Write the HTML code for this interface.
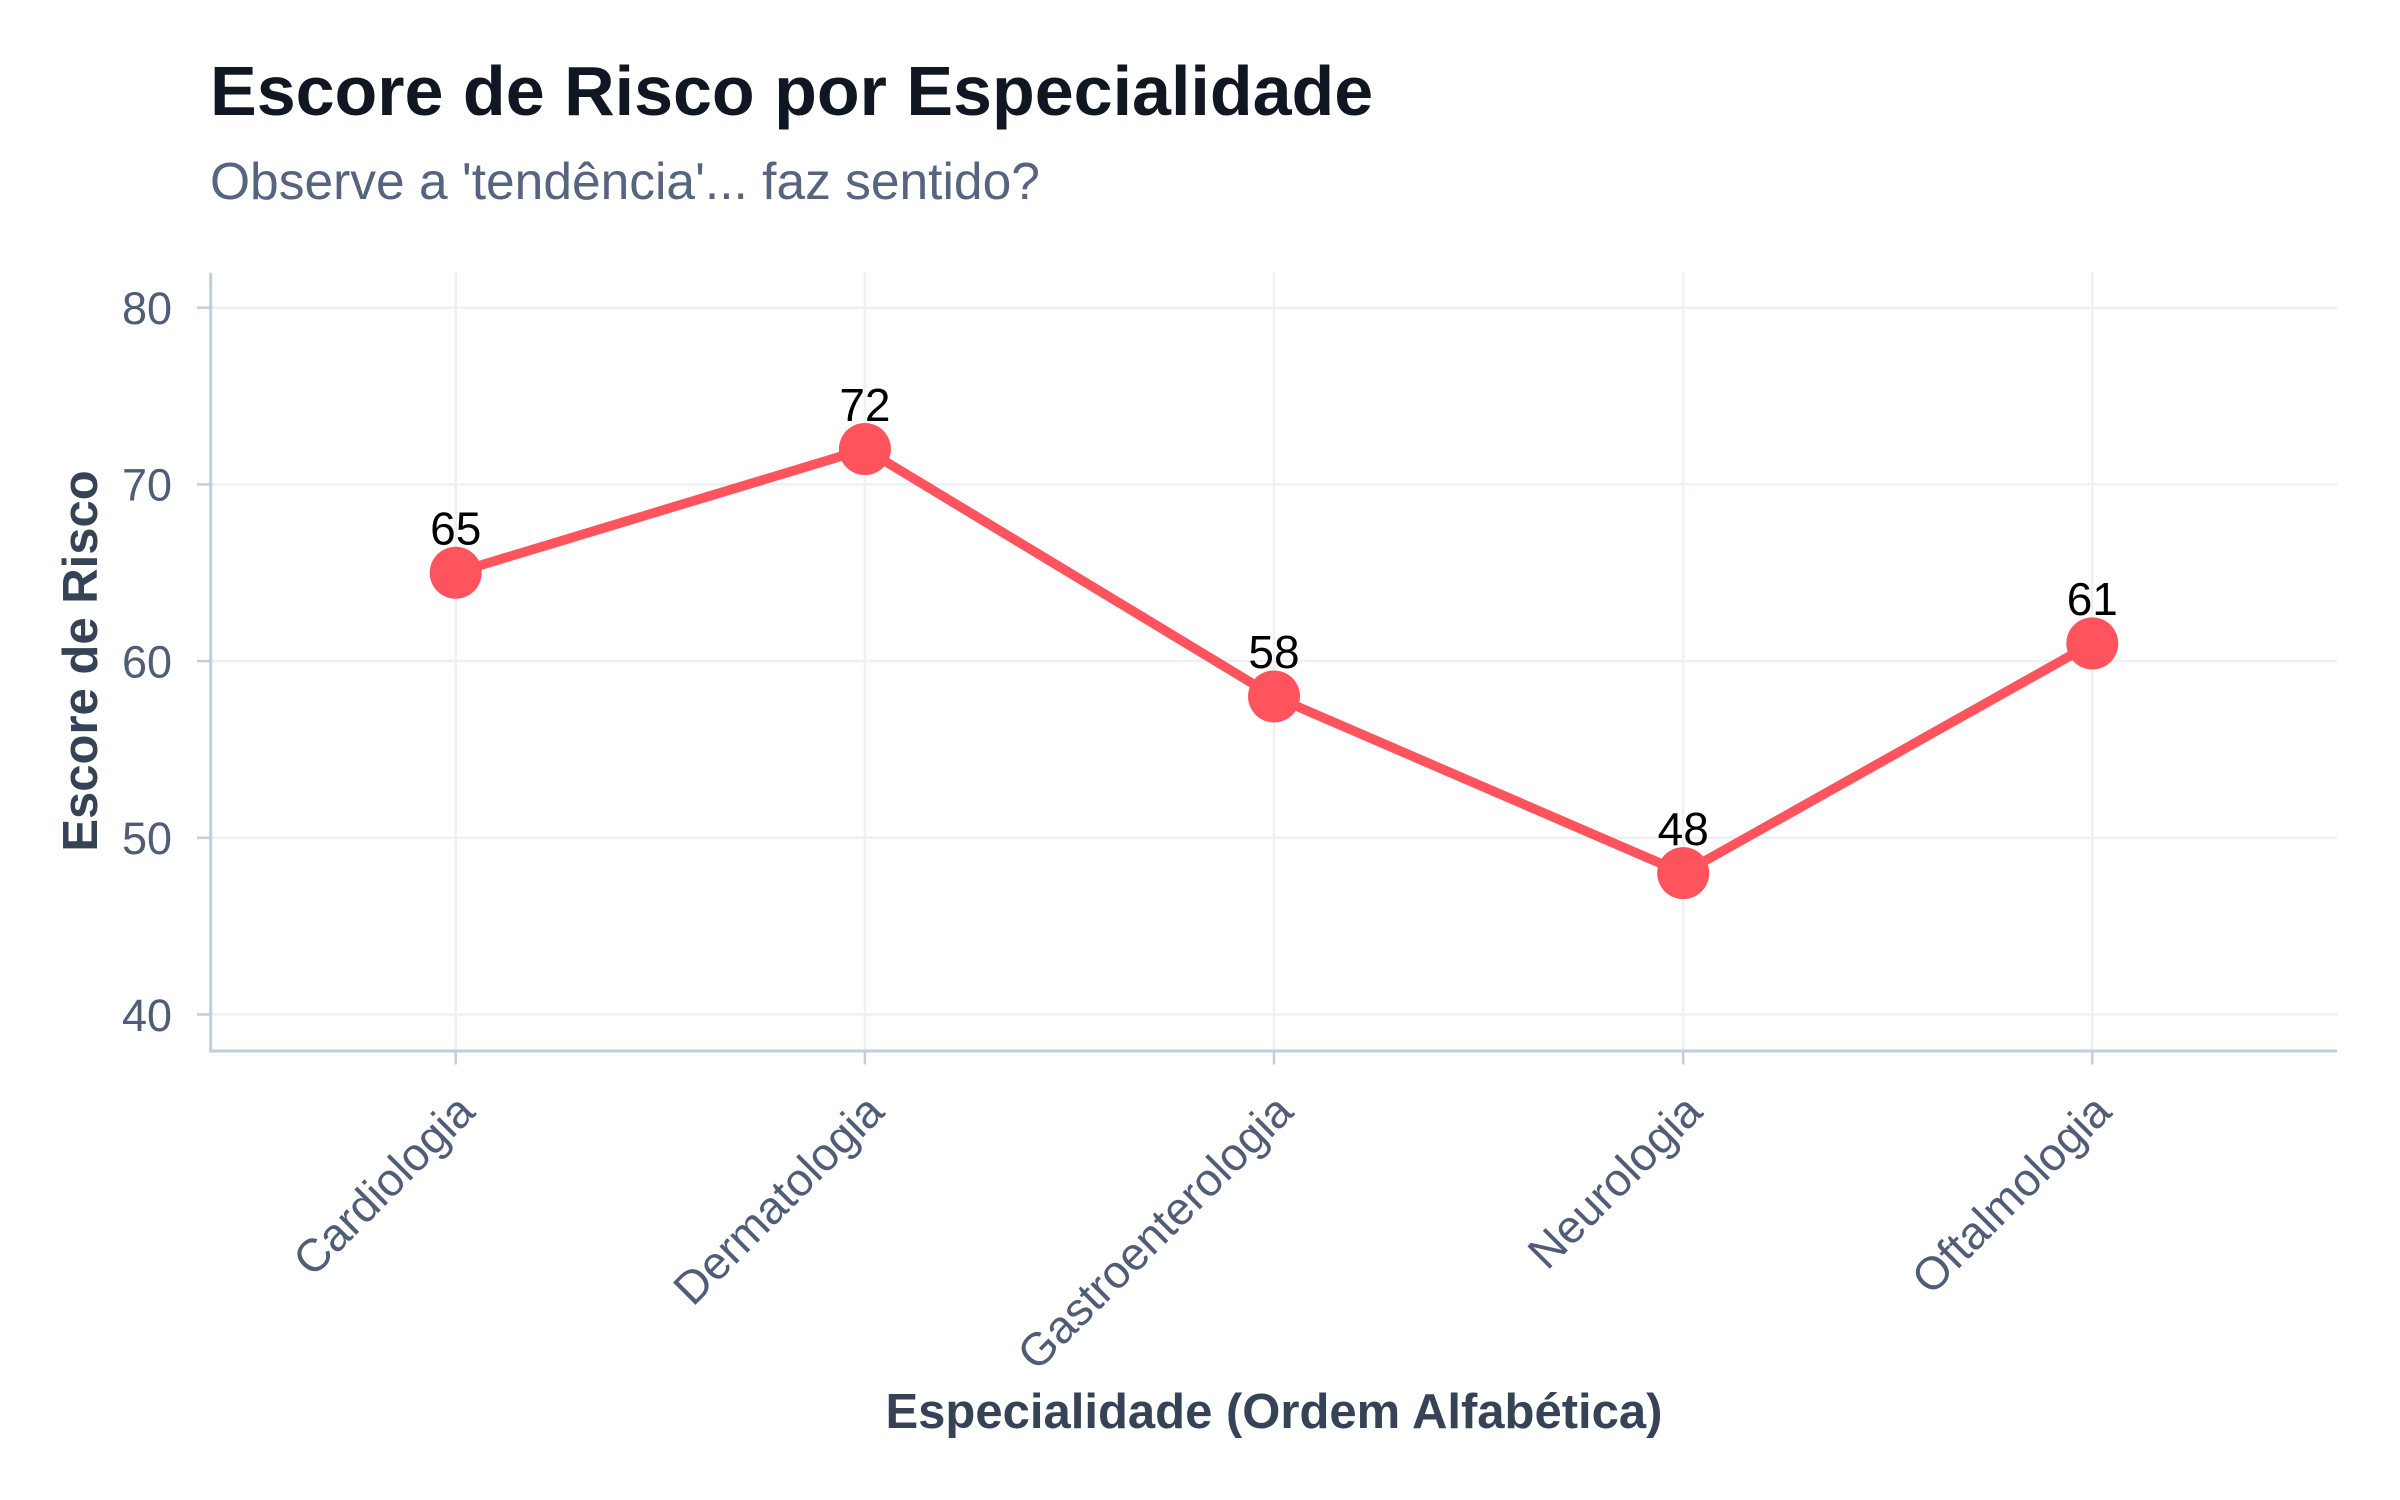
<!DOCTYPE html>
<html>
<head>
<meta charset="utf-8">
<style>
  html, body { margin: 0; padding: 0; background: #ffffff; }
  body { width: 2400px; height: 1500px; overflow: hidden; }
  svg { display: block; }
  text { font-family: "Liberation Sans", Arial, Helvetica, sans-serif; }
</style>
</head>
<body>
<svg width="2400" height="1500" viewBox="0 0 2400 1500" xmlns="http://www.w3.org/2000/svg">
  <rect x="0" y="0" width="2400" height="1500" fill="#ffffff"/>

  <!-- Title & subtitle -->
  <text x="210" y="115" font-size="70" font-weight="bold" fill="#111722">Escore de Risco por Especialidade</text>
  <text x="210" y="199" font-size="51.5" fill="#566480">Observe a 'tendência'... faz sentido?</text>

  <!-- Horizontal gridlines -->
  <g stroke="#edf0f5" stroke-width="2.5">
    <line x1="211" y1="307.7" x2="2337" y2="307.7"/>
    <line x1="211" y1="484.4" x2="2337" y2="484.4"/>
    <line x1="211" y1="661.1" x2="2337" y2="661.1"/>
    <line x1="211" y1="837.8" x2="2337" y2="837.8"/>
    <line x1="211" y1="1014.5" x2="2337" y2="1014.5"/>
  </g>
  <!-- Vertical gridlines -->
  <g stroke="#edf0f5" stroke-width="2.5">
    <line x1="455.7" y1="272.7" x2="455.7" y2="1051"/>
    <line x1="864.9" y1="272.7" x2="864.9" y2="1051"/>
    <line x1="1274" y1="272.7" x2="1274" y2="1051"/>
    <line x1="1683.2" y1="272.7" x2="1683.2" y2="1051"/>
    <line x1="2092.3" y1="272.7" x2="2092.3" y2="1051"/>
  </g>

  <!-- Spines -->
  <g stroke="#c4cedb" stroke-width="3">
    <line x1="210.7" y1="272.7" x2="210.7" y2="1052.5"/>
    <line x1="209.2" y1="1051" x2="2337" y2="1051"/>
  </g>
  <!-- Ticks -->
  <g stroke="#c4cedb" stroke-width="2.5">
    <line x1="197" y1="307.7" x2="210.7" y2="307.7"/>
    <line x1="197" y1="484.4" x2="210.7" y2="484.4"/>
    <line x1="197" y1="661.1" x2="210.7" y2="661.1"/>
    <line x1="197" y1="837.8" x2="210.7" y2="837.8"/>
    <line x1="197" y1="1014.5" x2="210.7" y2="1014.5"/>
    <line x1="455.7" y1="1051" x2="455.7" y2="1064.5"/>
    <line x1="864.9" y1="1051" x2="864.9" y2="1064.5"/>
    <line x1="1274" y1="1051" x2="1274" y2="1064.5"/>
    <line x1="1683.2" y1="1051" x2="1683.2" y2="1064.5"/>
    <line x1="2092.3" y1="1051" x2="2092.3" y2="1064.5"/>
  </g>

  <!-- Y tick labels -->
  <g font-size="45" fill="#4f5d76" text-anchor="end">
    <text x="172" y="324">80</text>
    <text x="172" y="500.7">70</text>
    <text x="172" y="677.4">60</text>
    <text x="172" y="854.1">50</text>
    <text x="172" y="1030.8">40</text>
  </g>

  <!-- X tick labels (rotated 45°) -->
  <g font-size="46" fill="#4f5d76" text-anchor="end">
    <text transform="translate(477,1114) rotate(-45)" x="0" y="0">Cardiologia</text>
    <text transform="translate(886.2,1114) rotate(-45)" x="0" y="0">Dermatologia</text>
    <text transform="translate(1295.3,1114) rotate(-45)" x="0" y="0">Gastroenterologia</text>
    <text transform="translate(1704.5,1114) rotate(-45)" x="0" y="0">Neurologia</text>
    <text transform="translate(2113.6,1114) rotate(-45)" x="0" y="0">Oftalmologia</text>
  </g>

  <!-- Axis labels -->
  <text x="1274" y="1428" font-size="49" font-weight="bold" fill="#364357" text-anchor="middle">Especialidade (Ordem Alfabética)</text>
  <text transform="translate(97,661) rotate(-90)" x="0" y="0" font-size="49" font-weight="bold" fill="#364357" text-anchor="middle">Escore de Risco</text>

  <!-- Series line -->
  <polyline points="455.7,572.75 864.9,449.06 1274,696.44 1683.2,873.14 2092.3,643.43"
            fill="none" stroke="#ff545d" stroke-width="9.5" stroke-linejoin="round" stroke-linecap="round"/>
  <!-- Markers -->
  <g fill="#ff545d">
    <circle cx="455.7" cy="572.75" r="26"/>
    <circle cx="864.9" cy="449.06" r="26"/>
    <circle cx="1274" cy="696.44" r="26"/>
    <circle cx="1683.2" cy="873.14" r="26"/>
    <circle cx="2092.3" cy="643.43" r="26"/>
  </g>

  <!-- Data labels -->
  <g font-size="46" fill="#000000" text-anchor="middle">
    <text x="455.7" y="544.5">65</text>
    <text x="864.9" y="420.8">72</text>
    <text x="1274" y="668.2">58</text>
    <text x="1683.2" y="844.9">48</text>
    <text x="2092.3" y="615.2">61</text>
  </g>
</svg>
</body>
</html>
